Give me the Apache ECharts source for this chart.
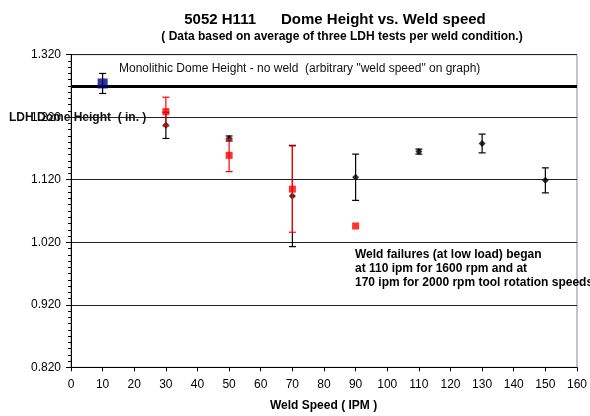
<!DOCTYPE html>
<html>
<head>
<meta charset="utf-8">
<script src="https://cdn.jsdelivr.net/npm/echarts@6/dist/echarts.min.js"></script>
<style>
  html, body { margin: 0; padding: 0; background: #fff; }
  #chart { width: 590px; height: 416px; }
</style>
</head>
<body>
<div id="chart"></div>
<script>
// Dome height vs. weld speed (5052 H111)
var blackSpeeds = [30, 50, 70, 90, 110, 130, 150];
var blackHeights = [1.207, 1.186, 1.094, 1.124, 1.165, 1.178, 1.119];
var blackErrors = [0.021, 0.004, 0.081, 0.037, 0.004, 0.015, 0.020];

var redSpeeds = [30, 50, 70, 90];
var redHeights = [1.229, 1.159, 1.105, 1.046];
var redErrors = [0.023, 0.026, 0.069, 0];

var monoSpeeds = [10];
var monoHeights = [1.274];
var monoErrors = [0.016];
var monolithicHeight = 1.274;

function zip(xs, ys, es) {
  return xs.map(function (x, i) { return [x, ys[i], es[i]]; });
}

function errorBars(color) {
  return function (params, api) {
    var x = api.value(0), y = api.value(1), e = api.value(2);
    if (!e) return null;
    var top = api.coord([x, y + e]);
    var bot = api.coord([x, y - e]);
    var hw = 3.5;
    var st = { stroke: color, lineWidth: 1.2 };
    return {
      type: 'group',
      children: [
        { type: 'line', shape: { x1: top[0], y1: top[1], x2: bot[0], y2: bot[1] }, style: st },
        { type: 'line', shape: { x1: top[0] - hw, y1: top[1], x2: top[0] + hw, y2: top[1] }, style: st },
        { type: 'line', shape: { x1: bot[0] - hw, y1: bot[1], x2: bot[0] + hw, y2: bot[1] }, style: st }
      ]
    };
  };
}

var chart = echarts.init(document.getElementById('chart'));
var font = '"Liberation Sans", Arial, sans-serif';

var option = {
  animation: false,
  textStyle: { fontFamily: font },
  title: [
    {
      text: '5052 H111      Dome Height vs. Weld speed',
      left: 330, textAlign: 'center', top: 7,
      textStyle: { fontSize: 15, fontWeight: 'bold', color: '#000', fontFamily: font }
    },
    {
      text: '( Data based on average of three LDH tests per weld condition.)',
      left: 337, textAlign: 'center', top: 26,
      textStyle: { fontSize: 12, fontWeight: 'bold', color: '#000', fontFamily: font }
    }
  ],
  grid: {
    left: 71, right: 10, top: 54.7, bottom: 48.7,
    show: true, borderColor: '#888', borderWidth: 1, backgroundColor: 'transparent'
  },
  xAxis: {
    type: 'value',
    min: 0, max: 160, interval: 10,
    axisLine: { lineStyle: { color: '#000', width: 1 } },
    axisTick: { show: true, length: 4, lineStyle: { color: '#000' } },
    axisLabel: { color: '#000', fontSize: 12, margin: 11, fontFamily: font },
    splitLine: { show: false }
  },
  yAxis: {
    type: 'value',
    min: 0.82, max: 1.32, interval: 0.1,
    axisLine: { show: true, lineStyle: { color: '#000', width: 1 } },
    axisTick: { show: true, length: 5, lineStyle: { color: '#000' } },
    minorTick: { show: true, splitNumber: 10, length: 3, lineStyle: { color: '#000' } },
    axisLabel: {
      color: '#000', fontSize: 12, margin: 10, fontFamily: font,
      formatter: function (v) { return v.toFixed(3); }
    },
    splitLine: { show: true, lineStyle: { color: '#222', width: 1 } }
  },
  graphic: [
    {
      type: 'text', left: 119, top: 63,
      style: {
        text: 'Monolithic Dome Height - no weld  (arbitrary "weld speed" on graph)',
        font: '12px ' + font, fill: '#111'
      }
    },
    {
      type: 'text', left: 9, top: 112, z: 10,
      style: { text: 'LDH Dome Height  ( in. )', font: 'bold 12px ' + font, fill: '#111' }
    },
    {
      type: 'text', left: 355, top: 248,
      style: {
        text: 'Weld failures (at low load) began\nat 110 ipm for 1600 rpm and at\n170 ipm for 2000 rpm tool rotation speeds',
        font: 'bold 12px ' + font, fill: '#000', lineHeight: 13.8
      }
    },
    {
      type: 'text', left: 270, top: 400,
      style: { text: 'Weld Speed ( IPM )', font: 'bold 12px ' + font, fill: '#000' }
    }
  ],
  series: [
    {
      type: 'custom', name: 'black err', renderItem: errorBars('#000'),
      data: zip(blackSpeeds, blackHeights, blackErrors), z: 2
    },
    {
      type: 'scatter', name: 'black', symbol: 'diamond', symbolSize: 7,
      itemStyle: { color: '#000' },
      data: zip(blackSpeeds, blackHeights, blackErrors), z: 3
    },
    {
      type: 'custom', name: 'red err', renderItem: errorBars('#ff0000'),
      data: zip(redSpeeds, redHeights, redErrors), z: 4
    },
    {
      type: 'scatter', name: 'red', symbol: 'rect', symbolSize: 7,
      itemStyle: { color: '#ff0000' },
      data: zip(redSpeeds, redHeights, redErrors), z: 5
    },
    {
      type: 'custom', name: 'mono err', renderItem: errorBars('#000'),
      data: zip(monoSpeeds, monoHeights, monoErrors), z: 6
    },
    {
      type: 'scatter', name: 'mono', symbol: 'rect', symbolSize: 10,
      itemStyle: { color: '#000080' },
      data: zip(monoSpeeds, monoHeights, monoErrors), z: 7,
      markLine: {
        silent: true, symbol: 'none', label: { show: false },
        lineStyle: { color: '#000', width: 3, type: 'solid' },
        data: [{ yAxis: monolithicHeight }]
      }
    }
  ]
};

chart.setOption(option);
</script>
</body>
</html>
